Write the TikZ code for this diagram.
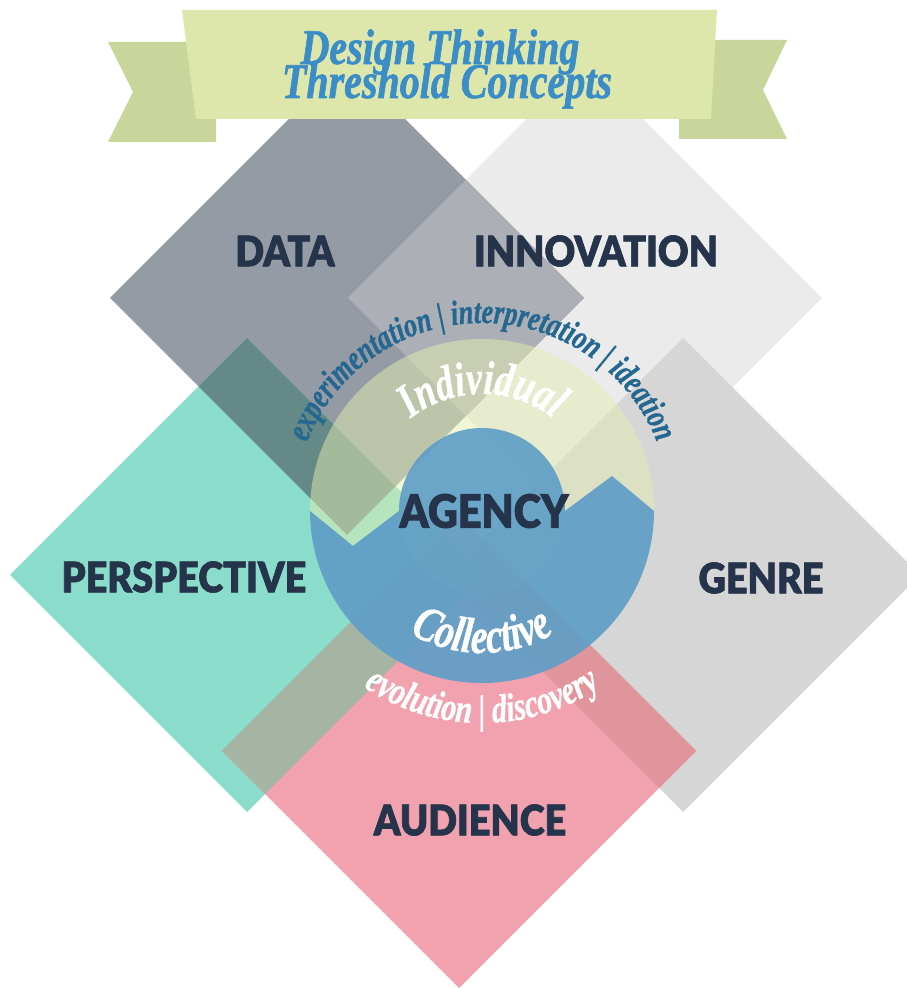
\documentclass[tikz,border=0pt]{standalone}
\usepackage{fontspec}
\usetikzlibrary{decorations.text}

\IfFontExistsTF{Lato Black}
  {\newfontfamily\labelfont{Lato Black}[FakeStretch=0.9, FakeBold=1.5]}
  {\newfontfamily\labelfont{Lato Bold}[FakeStretch=0.9, FakeBold=2.5]}
\newfontfamily\swashfont{Liberation Serif Bold Italic}[FakeStretch=0.75, FakeBold=0.8]
\newfontfamily\bannerfont{Liberation Serif Bold Italic}[FakeStretch=0.8, FakeBold=1.2]

\definecolor{datagray}{RGB}{149,155,165}
\definecolor{innogray}{RGB}{235,235,236}
\definecolor{genregray}{RGB}{214,214,215}
\definecolor{perspteal}{RGB}{138,220,203}
\definecolor{audpink}{RGB}{242,161,175}
\definecolor{datainno}{RGB}{173,175,182}
\definecolor{datapersp}{RGB}{101,137,135}
\definecolor{perspaud}{RGB}{166,180,164}
\definecolor{genreaud}{RGB}{224,149,157}
\definecolor{threeway}{RGB}{163,173,154}
\definecolor{pale}{RGB}{227,237,176}
\definecolor{ringblue}{RGB}{96,158,198}
\definecolor{navy}{RGB}{37,52,74}
\definecolor{inkblue}{RGB}{36,104,145}
\definecolor{titleblue}{RGB}{58,141,198}
\definecolor{bannerlight}{RGB}{221,231,171}
\definecolor{bannerdark}{RGB}{201,214,155}

% square tile of half diagonal 237 around (#1,#2)
\newcommand{\diamondpath}[2]{({#1-237},#2) -- (#1,{#2+237}) -- ({#1+237},#2) -- (#1,{#2-237}) -- cycle}

\begin{document}
\begin{tikzpicture}[x=1pt, y=1pt,
    concept/.style={font=\labelfont\fontsize{42}{42}\selectfont, text=navy, inner sep=0pt},
    bannertext/.style={font=\bannerfont\fontsize{50}{50}\selectfont, text=titleblue, inner sep=0pt, anchor=base},
    ringtext/.style={decorate, decoration={text along path, text align=center, text format delimiters={[}{]}}}]
  \useasboundingbox (0,0) rectangle (906,988);

  % the five tiles
  \fill[innogray] \diamondpath{585}{690};
  \fill[datagray] \diamondpath{347}{690};
  \fill[genregray] \diamondpath{683}{413};
  \fill[perspteal] \diamondpath{247}{413};
  \fill[audpink] \diamondpath{459}{237};

  % where they overlap
  \begin{scope}
    \clip \diamondpath{347}{690};
    \fill[datainno] \diamondpath{585}{690};
    \fill[datapersp] \diamondpath{247}{413};
  \end{scope}
  \begin{scope}
    \clip \diamondpath{459}{237};
    \fill[perspaud] \diamondpath{247}{413};
    \fill[genreaud] \diamondpath{683}{413};
    \clip \diamondpath{247}{413};
    \fill[threeway] \diamondpath{683}{413};
  \end{scope}

  % the ring: two arrows
  \begin{scope}[shift={(482,477)}]
    \fill[pale, fill opacity=0.5] (-172,0) arc[start angle=180, end angle=0, radius=172]
      -- (130,35) -- (83,0) arc[start angle=0, end angle=-180, radius=83] -- (-129,-35) -- cycle;
    \fill[ringblue, fill opacity=0.92] (-172,0) -- (-129,-35) -- (-83,0)
      arc[start angle=180, end angle=0, radius=83] -- (130,35) -- (172,0)
      arc[start angle=0, end angle=-180, radius=172] -- cycle;

    \path[ringtext, decoration={text color=inkblue,
        text={[\swashfont\fontsize{35}{35}\selectfont]experimentation | interpretation | ideation}}]
      (175:188) arc[start angle=175, end angle=5, radius=188];
    \path[ringtext, decoration={text color=white,
        text={[\swashfont\fontsize{48}{48}\selectfont]Individual}}]
      (170:117) arc[start angle=170, end angle=10, radius=117];
    \path[ringtext, decoration={text color=white,
        text={[\swashfont\fontsize{50}{50}\selectfont]Collective}}]
      (195:142) arc[start angle=195, end angle=345, radius=142];
    \path[ringtext, decoration={text color=white,
        text={[\swashfont\fontsize{40}{40}\selectfont]evolution | discovery}}]
      (200:212) arc[start angle=200, end angle=340, radius=212];
  \end{scope}

  % banner
  \fill[bannerdark] (108,946) -- (216,946) -- (216,846) -- (108,846) -- (133,896) -- cycle;
  \fill[bannerdark] (679,948) -- (787,948) -- (763,898) -- (787,849) -- (679,849) -- cycle;
  \fill[bannerlight] (182,978) -- (717,978) -- (711,869) -- (196,869) -- cycle;
  \node[bannertext] (titletop) at (440,924) {Design Thinking};
  \node[bannertext] (titlebottom) at (447,890) {Threshold Concepts};

  % labels
  \node[concept] (data) at (285,737) {DATA};
  \node[concept] (innovation) at (596,737) {INNOVATION};
  \node[concept] (perspective) at (184,411) {PERSPECTIVE};
  \node[concept] (genre) at (761,410) {GENRE};
  \node[concept] (audience) at (470,168) {AUDIENCE};
  \node[concept, font=\labelfont\fontsize{46}{46}\selectfont] (agency) at (484,477) {AGENCY};
\end{tikzpicture}
\end{document}
